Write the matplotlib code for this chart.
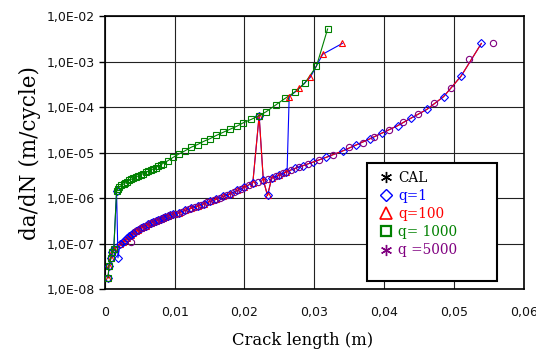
"""Crack growth rate da/dN versus crack length for several q values."""

import matplotlib

matplotlib.use("Agg")
import matplotlib.pyplot as plt
import numpy as np
from matplotlib.lines import Line2D
from matplotlib.patches import Rectangle
from matplotlib.ticker import FixedLocator, FuncFormatter, NullLocator


# lower branch (q=1 diamonds, q=100 red line)
lower_x = [0.0005, 0.0006, 0.0009, 0.0011, 0.0013, 0.0022, 0.0026, 0.0029, 0.0032, 0.0035,
           0.0038, 0.0041, 0.0045, 0.0048, 0.0052, 0.0055, 0.0059, 0.0062, 0.0066, 0.0069,
           0.0073, 0.0076, 0.0080, 0.0083, 0.0087, 0.0090, 0.0094, 0.0098, 0.0106, 0.0115,
           0.0124, 0.0133, 0.0142, 0.0151, 0.0160, 0.0170, 0.0180, 0.0190, 0.0200, 0.0212,
           0.0227, 0.0239, 0.0250, 0.0260, 0.0272, 0.0284, 0.0298, 0.0317, 0.0341, 0.0360,
           0.0379, 0.0397, 0.0419, 0.0439, 0.0461, 0.0485, 0.0510, 0.0539]
lower_rate = [1.8e-8, 3.2e-8, 4.9e-8, 6.5e-8, 7.6e-8, 1.0e-7, 1.12e-7, 1.23e-7, 1.35e-7, 1.45e-7,
              1.58e-7, 1.70e-7, 1.86e-7, 2.0e-7, 2.2e-7, 2.34e-7, 2.5e-7, 2.7e-7, 2.9e-7, 3.0e-7,
              3.2e-7, 3.4e-7, 3.55e-7, 3.7e-7, 3.9e-7, 4.0e-7, 4.2e-7, 4.4e-7, 4.8e-7, 5.4e-7,
              6.0e-7, 6.8e-7, 7.6e-7, 8.5e-7, 9.5e-7, 1.10e-6, 1.26e-6, 1.48e-6, 1.74e-6, 2.2e-6,
              2.5e-6, 2.75e-6, 3.2e-6, 3.8e-6, 4.5e-6, 5.2e-6, 6.2e-6, 7.9e-6, 1.1e-5, 1.48e-5,
              2.0e-5, 2.7e-5, 3.9e-5, 5.8e-5, 8.9e-5, 1.7e-4, 4.8e-4, 2.5e-3]

# upper branch (q=1000)
upper_x = [0.0017, 0.0019, 0.0021, 0.0024, 0.0027, 0.0029, 0.0032, 0.0035, 0.0038, 0.0041,
           0.0045, 0.0048, 0.0052, 0.0055, 0.0059, 0.0062, 0.0066, 0.0069, 0.0073, 0.0076,
           0.0080, 0.0083, 0.0090, 0.0098, 0.0106, 0.0115, 0.0124, 0.0133, 0.0142, 0.0151,
           0.0160, 0.0170, 0.0180, 0.0189, 0.0198, 0.0210, 0.0221, 0.0231, 0.0245, 0.0258,
           0.0272, 0.0286, 0.0303, 0.0319]
upper_rate = [1.41e-6, 1.62e-6, 1.75e-6, 1.91e-6, 2.05e-6, 2.14e-6, 2.3e-6, 2.45e-6, 2.6e-6, 2.75e-6,
              2.95e-6, 3.09e-6, 3.3e-6, 3.47e-6, 3.7e-6, 3.89e-6, 4.15e-6, 4.37e-6, 4.7e-6, 5.0e-6,
              5.35e-6, 5.75e-6, 6.6e-6, 7.9e-6, 9.3e-6, 1.10e-5, 1.32e-5, 1.51e-5, 1.78e-5, 2.04e-5,
              2.40e-5, 2.82e-5, 3.3e-5, 3.8e-5, 4.5e-5, 5.4e-5, 6.5e-5, 7.9e-5, 1.12e-4, 1.55e-4,
              2.14e-4, 3.3e-4, 7.9e-4, 5.2e-3]

# q=5000
purple_x = [0.0038, 0.0045, 0.0052, 0.0059, 0.0066, 0.0073, 0.0080, 0.0087, 0.0094, 0.0102,
            0.0110, 0.0120, 0.0129, 0.0138, 0.0147, 0.0156, 0.0165, 0.0175, 0.0185, 0.0195,
            0.0206, 0.0220, 0.0233, 0.0245, 0.0255, 0.0266, 0.0278, 0.0291, 0.0307, 0.0326,
            0.0349, 0.0369, 0.0386, 0.0407, 0.0427, 0.0448, 0.0471, 0.0495, 0.0521, 0.0556]
purple_rate = [1.1e-7, 1.86e-7, 2.2e-7, 2.5e-7, 2.9e-7, 3.2e-7, 3.55e-7, 3.9e-7, 4.2e-7, 4.6e-7,
               5.0e-7, 5.75e-7, 6.5e-7, 7.2e-7, 8.1e-7, 9.1e-7, 1.02e-6, 1.17e-6, 1.38e-6, 1.58e-6,
               1.95e-6, 2.3e-6, 2.6e-6, 3.0e-6, 3.55e-6, 4.1e-6, 4.8e-6, 5.6e-6, 6.9e-6, 8.9e-6,
               1.35e-5, 1.66e-5, 2.24e-5, 3.16e-5, 4.6e-5, 7.1e-5, 1.26e-4, 2.57e-4, 1.15e-3, 2.6e-3]

# jumps between branches
blue_jump_x = [0.0017, 0.0019, 0.0221, 0.0233]
blue_jump_rate = [1.41e-6, 4.9e-8, 6.5e-5, 1.15e-6]
red_jump_x = [0.0221, 0.0233]
red_jump_rate = [6.5e-5, 1.15e-6]
red_upper_x = [0.0264, 0.0278, 0.0294, 0.0312, 0.0340]
red_upper_rate = [1.66e-4, 2.57e-4, 4.47e-4, 1.45e-3, 2.5e-3]
blue_rise_x = [0.0261] + red_upper_x
blue_rise_rate = [3.85e-6] + red_upper_rate

labels = ["CAL", "q=1", "q=100", "q= 1000", "q =5000"]
colors = ["black", "#0000FF", "#FF0000", "#008000", "#800080"]
x_ticks = [0.0, 0.01, 0.02, 0.03, 0.04, 0.05, 0.06]
y_ticks = [1e-8, 1e-7, 1e-6, 1e-5, 1e-4, 1e-3, 1e-2]


def merged(xs, ys, extra_x, extra_y):
    x = np.array(xs + extra_x)
    y = np.array(ys + extra_y)
    order = np.argsort(x)
    return x[order], y[order]


fig = plt.figure(figsize=(5.36, 3.52), dpi=100)
ax = fig.add_axes([0.1953, 0.1781, 0.7823, 0.7764])
ax.set_yscale("log")

blue, red, green, purple = colors[1:]
asterisk = (6, 2, 0)

q1_x, q1_y = merged(lower_x, lower_rate, blue_jump_x, blue_jump_rate)
q100_x, q100_y = merged(lower_x, lower_rate, red_jump_x, red_jump_rate)
green_x = lower_x[:5] + upper_x
green_y = lower_rate[:5] + upper_rate

ax.plot(q1_x, q1_y, color=blue, lw=0.8, zorder=2)
ax.plot(blue_rise_x, blue_rise_rate, color=blue, lw=0.8, zorder=3)
ax.plot(q100_x, q100_y, color=red, lw=0.8, marker="^", ms=4.5, mfc="none", mew=0.8,
        markevery=list(q100_x < 0.0262), zorder=3)
ax.plot(q1_x, q1_y, ls="none", marker="D", ms=3.6, mfc="none", mec=blue, mew=0.8, zorder=4)
ax.plot(purple_x, purple_rate, ls="none", marker="o", ms=4.5, mfc="none", mec=purple, mew=0.8,
        zorder=5)
ax.plot(green_x, green_y, color=green, lw=0.8, marker="s", ms=4.2, mfc="none", mew=0.8, zorder=6)
ax.plot(red_upper_x, red_upper_rate, ls="none", marker="^", ms=5, mfc="none", mec=red, mew=0.8,
        zorder=7)

ax.set_xlim(0, 0.06)
ax.set_ylim(1e-8, 1e-2)
ax.xaxis.set_major_locator(FixedLocator(x_ticks))
ax.yaxis.set_major_locator(FixedLocator(y_ticks))
ax.yaxis.set_minor_locator(NullLocator())
ax.xaxis.set_major_formatter(FuncFormatter(
    lambda v, pos: "0" if v == 0 else f"{v:.2f}".replace(".", ",")))
ax.yaxis.set_major_formatter(FuncFormatter(
    lambda v, pos: f"1,0E-{-int(round(np.log10(v))):02d}"))
ax.tick_params(axis="y", direction="out", length=4, width=1, pad=3, labelsize=9,
               labelcolor="#111111")
ax.tick_params(axis="x", length=0, pad=12, labelsize=9, labelcolor="#111111")
ax.grid(True, color="#222222", lw=0.8)
ax.set_axisbelow(True)
for spine in ax.spines.values():
    spine.set_linewidth(1.2)

ax.set_xlabel("Crack length (m)", family="DejaVu Serif", fontsize=11.8, va="center")
ax.set_ylabel("da/dN (m/cycle)", family="DejaVu Serif", fontsize=15.5, va="center")
ax.xaxis.set_label_coords(0.473, -0.186)
ax.yaxis.set_label_coords(-0.178, 0.5)

ax.add_patch(Rectangle((0.625, 0.030), 0.311, 0.433, transform=ax.transAxes,
                       facecolor="white", edgecolor="black", lw=1.5, zorder=11))
handles = [
    Line2D([], [], ls="none", marker=asterisk, ms=8, mec="black", mew=1.0),
    Line2D([], [], ls="none", marker="D", ms=6.5, mfc="none", mec=blue, mew=1.0),
    Line2D([], [], ls="none", marker="^", ms=8, mfc="none", mec=red, mew=1.2),
    Line2D([], [], ls="none", marker="s", ms=7, mfc="none", mec=green, mew=1.6),
    Line2D([], [], ls="none", marker=asterisk, ms=8, mec=purple, mew=1.0),
]
leg = ax.legend(handles, labels, loc="upper left", bbox_to_anchor=(0.654, 0.433),
                frameon=False, prop={"family": "DejaVu Serif", "size": 9.8},
                handlelength=1.0, handletextpad=0.4, labelspacing=0.3,
                borderpad=0, borderaxespad=0)
for text, color in zip(leg.get_texts(), colors):
    text.set_color(color)
leg.set_zorder(12)

fig.savefig("out.png", dpi=100)
